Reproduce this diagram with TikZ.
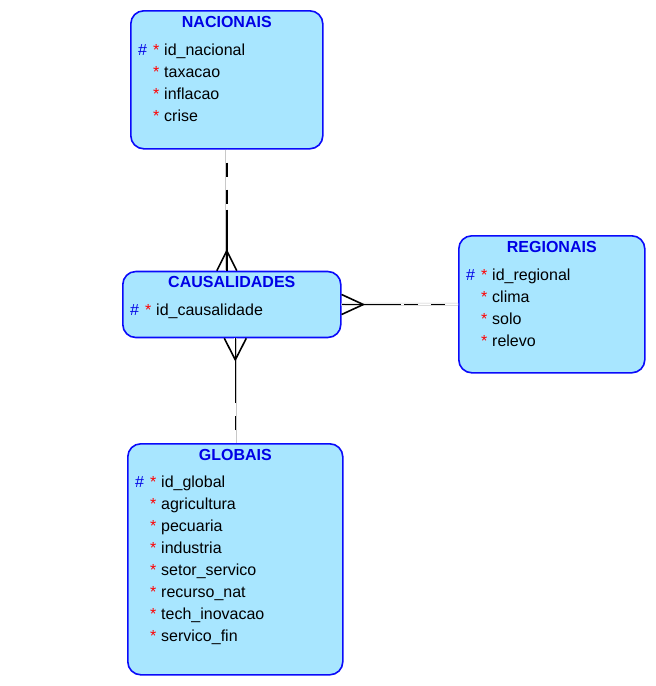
\documentclass[tikz,border=0pt]{standalone}
\usepackage{fontspec}
\setmainfont{Liberation Sans}
\usetikzlibrary{calc}

\definecolor{entfill}{RGB}{168,230,255}
\definecolor{entline}{RGB}{10,10,250}
\definecolor{titleblue}{RGB}{0,0,230}
\definecolor{relgray}{RGB}{200,200,200}

\newcommand{\pkrow}[1]{\makebox[15pt][l]{\textcolor{titleblue}{\#}}\makebox[11pt][l]{\textcolor{red}{*}}#1}
\newcommand{\reqrow}[1]{\makebox[15pt][l]{}\makebox[11pt][l]{\textcolor{red}{*}}#1}

\begin{document}
\begin{tikzpicture}[x=1pt,y=1pt,yscale=-1,
	entbox/.style={draw=entline, line width=1.6pt, fill=entfill, rounded corners=13pt, inner sep=0pt, anchor=north west},
	enttitle/.style={anchor=base, inner sep=0pt, text=titleblue, font=\fontsize{16}{19}\selectfont\bfseries},
	attr/.style={anchor=base west, inner sep=0pt, font=\fontsize{16}{19}\selectfont},
	relline/.style={draw=relgray, line width=0.5pt, double=white, double distance=2pt},
	reldash/.style={draw=black, line width=1.6pt, dash pattern=on 14pt off 13pt, dash phase=14pt},
	relsolid/.style={draw=black, line width=1.6pt}]
	\useasboundingbox [fill=white] (0,0) rectangle (656,686);
	
	% entities
	\node[entbox, minimum width=192pt, minimum height=138pt] (nacionais) at (130,10) {};
	\node[entbox, minimum width=218pt, minimum height=66pt] (causalidades) at (122,270.7) {};
	\node[entbox, minimum width=186pt, minimum height=137pt] (regionais) at (458,235) {};
	\node[entbox, minimum width=215pt, minimum height=231pt] (globais) at (127,443) {};
	
	% NACIONAIS
	\node[enttitle] (nac-t) at ([shift={(0,17)}]nacionais.north) {NACIONAIS};
	\node[attr] (nac-0) at ([shift={(8,45)}]nacionais.north west) {\pkrow{id\_nacional}};
	\foreach \f [count=\i] in {taxacao,inflacao,crise}
		\node[attr] (nac-\i) at ([shift={(8,45+22*\i)}]nacionais.north west) {\reqrow{\f}};
	
	% CAUSALIDADES
	\node[enttitle] (cau-t) at ([shift={(0,17)}]causalidades.north) {CAUSALIDADES};
	\node[attr] (cau-0) at ([shift={(8,45)}]causalidades.north west) {\pkrow{id\_causalidade}};
	
	% REGIONAIS
	\node[enttitle] (reg-t) at ([shift={(0,17)}]regionais.north) {REGIONAIS};
	\node[attr] (reg-0) at ([shift={(8,45)}]regionais.north west) {\pkrow{id\_regional}};
	\foreach \f [count=\i] in {clima,solo,relevo}
		\node[attr] (reg-\i) at ([shift={(8,45+22*\i)}]regionais.north west) {\reqrow{\f}};
	
	% GLOBAIS
	\node[enttitle] (glo-t) at ([shift={(0,17)}]globais.north) {GLOBAIS};
	\node[attr] (glo-0) at ([shift={(8,44.5)}]globais.north west) {\pkrow{id\_global}};
	\foreach \f [count=\i] in {agricultura,pecuaria,industria,setor\_servico,recurso\_nat,tech\_inovacao,servico\_fin}
		\node[attr] (glo-\i) at ([shift={(8,44.5+22*\i)}]globais.north west) {\reqrow{\f}};
	
	% NACIONAIS - CAUSALIDADES
	\coordinate (top-foot) at (nacionais.south |- causalidades.north);
	\draw[relline] (nacionais.south) -- (top-foot);
	\draw[reldash] (nacionais.south) -- ++(0,61);
	\draw[relsolid] (top-foot) ++(0,-61) -- (top-foot);
	\draw[relsolid] (top-foot) ++(-10,0) -- ++(10,-20) -- ++(10,20);
	
	% REGIONAIS - CAUSALIDADES
	\draw[relline] (regionais.west) -- (causalidades.east);
	\draw[reldash] (regionais.west) -- ++(-59,0);
	\draw[relsolid] (causalidades.east) -- ++(59,0);
	\draw[relsolid] (causalidades.east) ++(0,-10) -- ++(21.7,10) -- ++(-21.7,10);
	
	% GLOBAIS - CAUSALIDADES
	\coordinate (bot-foot) at (globais.north |- causalidades.south);
	\draw[relline] (globais.north) -- (bot-foot);
	\draw[reldash] (globais.north) -- ++(0,-41);
	\draw[relsolid] (bot-foot) -- ++(0,65);
	\draw[relsolid] (bot-foot) ++(-11,0) -- ++(11,21.5) -- ++(11,-21.5);
	
\end{tikzpicture}
\end{document}
